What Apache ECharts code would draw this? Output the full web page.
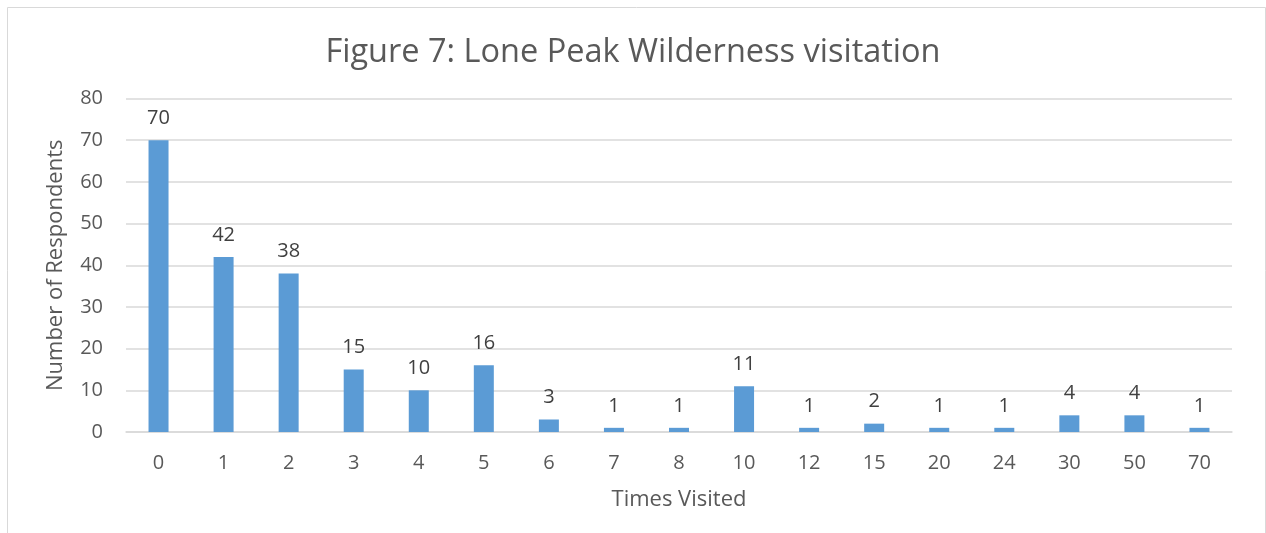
<!DOCTYPE html>
<html>
<head>
<meta charset="utf-8">
<title>Figure 7</title>
<script src="https://cdn.jsdelivr.net/npm/echarts@6/dist/echarts.min.js"></script>
<style>
  html, body { margin: 0; padding: 0; background: #fff; }
  #chart { width: 1266px; height: 533px; }
</style>
</head>
<body>
<div id="chart"></div>
<script>
// times visited (category labels) and respondents per category
const timesVisited = ['0', '1', '2', '3', '4', '5', '6', '7', '8', '10', '12', '15', '20', '24', '30', '50', '70']
const respondents = [70, 42, 38, 15, 10, 16, 3, 1, 1, 11, 1, 2, 1, 1, 4, 4, 1]

const textColor = '#595959'
const lineColor = '#D9D9D9'
const font = '"Open Sans", "Noto Sans", sans-serif'

const chart = echarts.init(document.getElementById('chart'))
chart.setOption({
  animation: false,
  textStyle: { fontFamily: font },
  graphic: [{
    type: 'rect',
    shape: { x: 7.5, y: 7.5, width: 1258, height: 600 },
    style: { fill: 'none', stroke: lineColor, lineWidth: 1 }
  }],
  title: {
    text: 'Figure 7: Lone Peak Wilderness visitation',
    left: 'center',
    top: 31,
    textStyle: { color: textColor, fontSize: 32.5, fontWeight: 'normal', fontFamily: font }
  },
  grid: {
    left: 126,
    right: 34,
    top: 98.5,
    bottom: 101
  },
  xAxis: {
    type: 'category',
    data: timesVisited,
    name: 'Times Visited',
    nameLocation: 'middle',
    nameGap: 57,
    nameTextStyle: { color: textColor, fontSize: 22, fontFamily: font },
    axisLine: { lineStyle: { color: lineColor, width: 1.5 } },
    axisTick: { show: false },
    axisLabel: { color: textColor, fontSize: 20, margin: 21, fontFamily: font }
  },
  yAxis: {
    type: 'value',
    min: 0,
    max: 80,
    interval: 10,
    name: 'Number of Respondents',
    nameLocation: 'middle',
    nameGap: 59,
    nameTextStyle: { color: textColor, fontSize: 22, fontFamily: font },
    axisLine: { show: false },
    axisTick: { show: false },
    axisLabel: { color: textColor, fontSize: 20, margin: 23, fontFamily: font },
    splitLine: { lineStyle: { color: lineColor, width: 1.5 } }
  },
  series: [{
    name: 'Respondents',
    type: 'bar',
    data: respondents,
    barWidth: 20,
    itemStyle: { color: '#5B9BD5' },
    label: {
      show: true,
      position: 'top',
      distance: 12,
      color: '#404040',
      fontSize: 20,
      fontFamily: font
    }
  }]
})
</script>
</body>
</html>
